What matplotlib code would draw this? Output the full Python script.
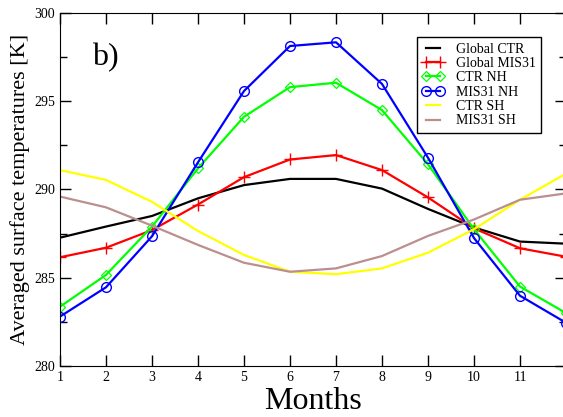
import matplotlib.pyplot as plt
import numpy as np

plt.rcParams['font.family'] = ['Liberation Serif', 'DejaVu Serif']

# monthly means
months = np.arange(1, 13)
global_ctr = [287.27, 287.9, 288.5, 289.5, 290.25, 290.6, 290.6, 290.05, 288.9, 287.85, 287.05, 286.93]
global_mis31 = [286.16, 286.7, 287.7, 289.15, 290.7, 291.7, 291.95, 291.1, 289.55, 287.8, 286.67, 286.19]
ctr_nh = [283.36, 285.16, 287.9, 291.2, 294.12, 295.8, 296.05, 294.5, 291.43, 287.75, 284.5, 283.0]
mis31_nh = [282.8, 284.46, 287.35, 291.54, 295.58, 298.13, 298.34, 295.98, 291.8, 287.25, 283.98, 282.45]
ctr_sh = [291.1, 290.54, 289.3, 287.65, 286.29, 285.34, 285.2, 285.53, 286.42, 287.75, 289.42, 290.9]
mis31_sh = [289.6, 288.99, 287.95, 286.86, 285.85, 285.34, 285.53, 286.23, 287.37, 288.3, 289.42, 289.78]

xtick_vals = list(range(1, 12))

fig = plt.figure(figsize=(5.63, 4.17), dpi=100)
# axes runs slightly past the right edge, like the cropped original
ax = fig.add_axes([60/563, 51/417, 506/563, 353/417])

lw = 1.6
ax.plot(months, global_ctr, color='black', lw=lw, label='Global CTR')
ax.plot(months, global_mis31, color='#ff0000', lw=lw, marker='+', ms=8, mew=1.0, label='Global MIS31')
ax.plot(months, ctr_nh, color='#00ff00', lw=lw, marker='D', ms=5.5, mfc='none', mew=0.9, label='CTR NH')
ax.plot(months, mis31_nh, color='#0000ff', lw=lw, marker='o', ms=7, mfc='none', mew=1.0, label='MIS31 NH')
ax.plot(months, ctr_sh, color='#ffff00', lw=lw, label='CTR SH')
ax.plot(months, mis31_sh, color='#bc8f8f', lw=lw, label='MIS31 SH')

ax.set_xlim(1, 12)
ax.set_ylim(280, 300)
ax.set_xticks(xtick_vals)
ax.set_yticks([280, 285, 290, 295, 300])
ax.set_yticks(np.arange(282.5, 300, 5), minor=True)
ax.tick_params(which='both', direction='in', top=True, right=True, labelsize=10)
ax.tick_params(which='major', length=8, width=1)
ax.tick_params(which='minor', length=5, width=1)

ax.set_xlabel('Months', fontsize=23, labelpad=2)
ax.set_ylabel('Averaged surface temperatures [K]', fontsize=16, labelpad=3)

ax.text(1.7, 297.5, 'b)', fontsize=23, va='center')

leg = ax.legend(loc='upper right', bbox_to_anchor=(541/563, 1 - 37/417), bbox_transform=fig.transFigure,
                borderaxespad=0, fontsize=10, numpoints=2, handlelength=1.6, handletextpad=0.8,
                labelspacing=0.1, borderpad=0.4, fancybox=False, framealpha=1)
leg.get_frame().set_edgecolor('black')
leg.get_frame().set_linewidth(1.0)

fig.savefig('out.png', dpi=100)
